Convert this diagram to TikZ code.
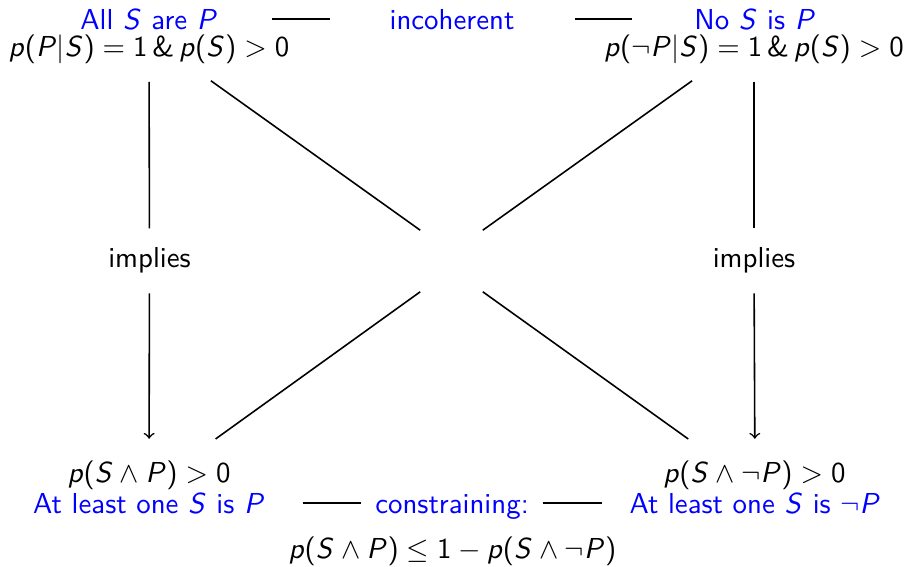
\documentclass[tikz,border=0pt,11pt]{standalone}
\usetikzlibrary{fit}

% sans serif maths, as on the slides
\SetSymbolFont{operators}{normal}{OT1}{cmss}{m}{n}
\DeclareSymbolFont{sfletters}{OT1}{cmss}{m}{sl}
\DeclareMathSymbol{p}{\mathalpha}{sfletters}{`p}
\DeclareMathSymbol{P}{\mathalpha}{sfletters}{`P}
\DeclareMathSymbol{S}{\mathalpha}{sfletters}{`S}

\begin{document}
\begin{tikzpicture}[
    semithick,
    every node/.style={font=\sffamily, inner sep=0pt},
    claim/.style={anchor=base, text=blue},
    formula/.style={anchor=base},
    vline/.style={shorten <=6.1pt, shorten >=6.8pt},
    implies/.style={->, shorten <=7.6pt, shorten >=7.6pt}
]
\useasboundingbox (0,0) rectangle (12.120,-7.547);

% Top row
\node[claim] (allsp) at (1.987,-0.387) {All $S$ are $P$};
\node[formula] (ptop) at (1.987,-0.760) {$p(P|S)=1\,\&\,p(S)>0$};
\node[claim] (incoh) at (6.027,-0.387) {incoherent};
\node[claim] (nosp) at (10.067,-0.387) {No $S$ is $P$};
\node[formula] (pntop) at (10.053,-0.760) {$p(\neg P|S)=1\,\&\,p(S)>0$};

% Middle row
\node[formula] (limp) at (1.993,-3.560) {implies};
\node[formula] (rimp) at (10.053,-3.560) {implies};
\node[minimum width=0.813cm, minimum height=0.8cm] (mid) at (6.020,-3.480) {};

% Bottom row
\node[formula] (pbot) at (1.987,-6.427) {$p(S\wedge P)>0$};
\node[claim] (atl) at (1.987,-6.840) {At least one $S$ is $P$};
\node[claim] (constr) at (6.027,-6.840) {constraining:};
\node[formula] (pnbot) at (10.060,-6.427) {$p(S\wedge\neg P)>0$};
\node[claim] (atln) at (10.067,-6.840) {At least one $S$ is $\neg P$};
\node[formula] (ineq) at (6.033,-7.440) {$p(S\wedge P)\leq 1-p(S\wedge\neg P)$};

% Corner cells
\node[fit=(allsp)(ptop)] (tl) {};
\node[fit=(nosp)(pntop)] (tr) {};
\node[fit=(pbot)(atl)] (bl) {};
\node[fit=(pnbot)(atln)] (br) {};

% Bars
\draw[shorten <=20.5pt, shorten >=22.4pt] (allsp.east) -- (allsp.east -| incoh.west);
\draw[shorten <=22.8pt, shorten >=23.5pt] (incoh.east) -- (incoh.east -| nosp.west);
\draw[shorten <=14pt, shorten >=5.3pt] (atl.east) -- (atl.east -| constr.west);
\draw[shorten <=5pt, shorten >=10.2pt] (atln.west -| constr.east) -- (atln.west);

% Implications
\draw[vline] (tl) -- (limp);
\draw[implies] (limp) -- (bl);
\draw[vline] (tr) -- (rimp);
\draw[implies] (rimp) -- (br);

% Diagonals
\draw[shorten <=9.8pt] (tl) -- (mid.north west);
\draw[shorten <=9.8pt] (tr) -- (mid.north east);
\draw[shorten <=12.9pt] (bl) -- (mid.south west);
\draw[shorten <=12.9pt] (br) -- (mid.south east);

\end{tikzpicture}
\end{document}
